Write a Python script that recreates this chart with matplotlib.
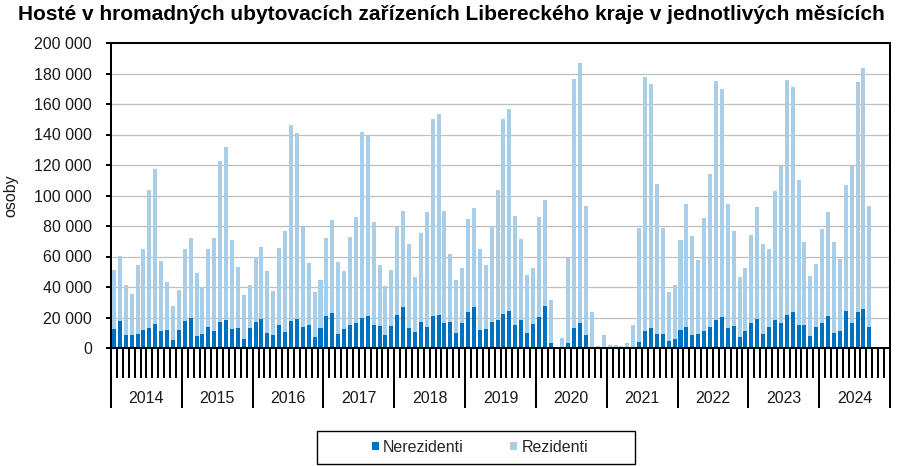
import matplotlib.pyplot as plt
import matplotlib.transforms as mtransforms
from matplotlib.patches import Patch, Rectangle
from matplotlib.ticker import FuncFormatter, FixedLocator

plt.rcParams['font.family'] = ['Liberation Sans', 'DejaVu Sans']

years = [2014, 2015, 2016, 2017, 2018, 2019, 2020, 2021, 2022, 2023, 2024]

# Nerezidenti (dark) and Rezidenti (light) per month, Jan 2014 .. Sep 2024
nerezidenti = [
    12700, 17900, 8700, 8700, 9400, 12000, 13300, 16000, 11400, 12000, 5500, 12000,
    17900, 19900, 8100, 9400, 14000, 11400, 17300, 18600, 12700, 13300, 6100, 13300,
    17300, 19200, 10100, 8700, 15300, 10700, 17900, 19200, 14000, 15300, 7400, 13300,
    21200, 23200, 9400, 12700, 15300, 16600, 19900, 21200, 15300, 14600, 8700, 14600,
    21900, 27100, 13300, 10700, 17300, 14000, 21200, 21900, 16600, 17300, 10100, 16600,
    23800, 27100, 12000, 12700, 17300, 18600, 22500, 24500, 15300, 18600, 10100, 16000,
    20500, 27800, 3500, 200, 400, 3500, 13300, 16600, 8700, 900, 300, 500,
    300, 300, 300, 400, 900, 4200, 11400, 13300, 9400, 9400, 4800, 6100,
    12000, 14000, 8700, 9400, 11400, 14000, 18600, 20500, 13300, 14600, 7400, 11400,
    16600, 19200, 9400, 14000, 18600, 16600, 21900, 23800, 15300, 15300, 8100, 14000,
    16600, 21200, 10100, 11400, 24500, 16600, 23800, 25800, 14000,
]
rezidenti = [
    38700, 42600, 32800, 26900, 45200, 53100, 90500, 101600, 45900, 31500, 22300, 26300,
    47200, 52500, 41300, 30800, 51100, 61000, 105500, 113400, 58300, 40000, 28900, 28200,
    42600, 47000, 40600, 28900, 50500, 66200, 128500, 122000, 65600, 40700, 29500, 31500,
    51200, 61000, 47200, 38000, 57700, 69500, 122000, 118000, 67500, 40000, 32200, 36800,
    57700, 63000, 55100, 36100, 58300, 75400, 129200, 131800, 73500, 44600, 34700, 36100,
    61000, 64900, 53100, 41900, 62900, 85200, 127900, 132400, 71500, 53100, 38000, 36700,
    65600, 69500, 28200, 400, 6400, 55700, 163300, 170500, 84600, 22900, 1200, 8200,
    1900, 1900, 1200, 3100, 14400, 74700, 166500, 160000, 98400, 69500, 32100, 35400,
    59000, 80600, 65000, 48500, 74100, 100300, 156700, 149600, 81300, 62300, 39400, 41300,
    57700, 73500, 59000, 51100, 84600, 103000, 154100, 147600, 95100, 54400, 39300, 41300,
    61700, 68200, 59600, 47200, 82600, 103000, 150800, 158000, 79300,
]

dark = '#0070C0'
light = '#A9CFE8'
fs = 11.5

fig = plt.figure(figsize=(9.02, 4.66), dpi=100)
ax = fig.add_axes([111 / 902, 1 - 348 / 466, 779 / 902, 305 / 466])

x = list(range(len(nerezidenti)))
ax.bar(x, nerezidenti, width=0.68, color=dark, zorder=3)
ax.bar(x, rezidenti, width=0.68, bottom=nerezidenti, color=light, zorder=3)

n_months = 12 * len(years)
ax.set_xlim(-0.5, n_months - 0.5)
ax.set_ylim(0, 200000)
ax.set_yticks(range(0, 200001, 20000))
ax.yaxis.set_major_formatter(FuncFormatter(lambda v, p: f'{int(v):,}'.replace(',', '\u00a0')))
ax.grid(axis='y', color='#BFBFBF', linewidth=0.9, zorder=0)

# month ticks (short) and year separators (long)
ax.xaxis.set_major_locator(FixedLocator([12 * k - 0.5 for k in range(len(years) + 1)]))
ax.xaxis.set_minor_locator(FixedLocator([m - 0.5 for m in range(n_months + 1)]))
ax.tick_params(axis='x', which='major', length=43.2, width=1.44, color='black', labelbottom=False)
ax.tick_params(axis='x', which='minor', length=21.6, width=1.44, color='black')
ax.tick_params(axis='y', length=3.6, width=1.44, pad=10, labelsize=fs, labelcolor='#1a1a1a')

trans = mtransforms.blended_transform_factory(ax.transData, ax.transAxes)
for k, yr in enumerate(years):
    ax.text(12 * k + 5.5, -0.164, str(yr), transform=trans, ha='center', va='center',
            fontsize=fs, color='#1a1a1a')

for s in ax.spines.values():
    s.set_linewidth(1.44)
    s.set_color('black')
    s.set_zorder(4)

ax.set_ylabel('osoby', fontsize=fs, color='#1a1a1a')
ax.yaxis.set_label_coords(-0.1194, 0.5)

fig.suptitle('Hosté v hromadných ubytovacích zařízeních Libereckého kraje v jednotlivých měsících',
             x=451 / 902, y=1 - 15 / 466, va='center', fontsize=15, fontweight='bold')

handles = [Patch(facecolor=dark, label='Nerezidenti'), Patch(facecolor=light, label='Rezidenti')]
fig.legend(handles=handles, loc='center', bbox_to_anchor=(480 / 902, 1 - 447 / 466), ncol=2,
           frameon=False, fontsize=fs, handlelength=0.45, handleheight=0.45,
           handletextpad=0.25, columnspacing=2.9, labelcolor='#262626')
fig.add_artist(Rectangle((317 / 902, 1 - 464 / 466), 318 / 902, 33 / 466,
                         transform=fig.transFigure, fill=False, edgecolor='black', linewidth=1.0))

fig.savefig('out.png', dpi=100)
